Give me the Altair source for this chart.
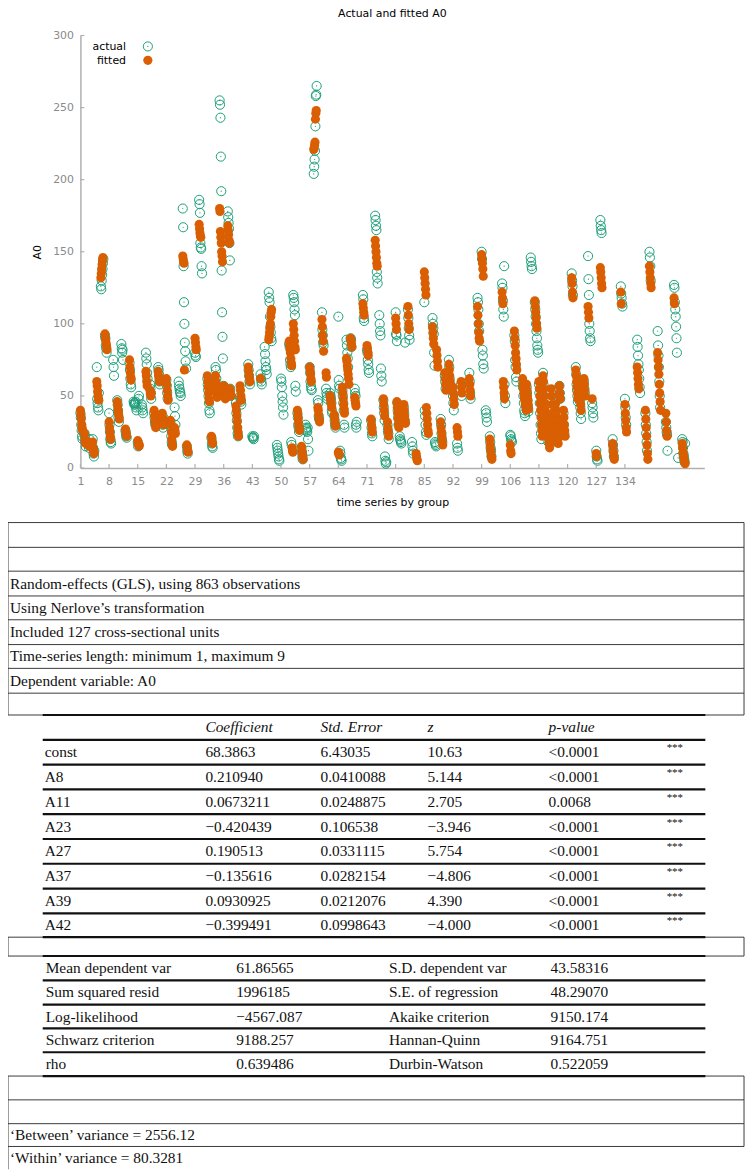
import altair as alt
import pandas as pd

# ---------------- chart data ----------------
UNIT_IDS = [1, 2, 3, 4, 5, 6, 7, 8, 9, 10, 11, 12, 13, 14, 15, 16, 17, 18, 19, 20,
            21, 22, 23, 24, 25, 26, 27, 29, 30, 32, 33, 34, 35, 36, 37, 39, 40, 42, 43, 45,
            46, 47, 49, 50, 52, 53, 54, 55, 56, 57, 58, 59, 60, 61, 62, 63, 64, 65, 66, 67,
            68, 70, 71, 72, 73, 74, 75, 76, 78, 79, 80, 81, 82, 83, 85, 87, 88, 89, 91, 92,
            93, 96, 98, 99, 100, 101, 104, 106, 107, 109, 111, 112, 114, 115, 117, 118, 121, 122, 123, 125,
            126, 127, 128, 131, 133, 134, 137, 139, 140, 142, 144, 146, 147, 148,
            90, 94, 110, 113, 116, 119, 124]

ACTUAL = [
    [38, 35, 30, 26, 22, 20], [24, 22, 18, 15], [16, 14, 20], [20, 14, 10, 8, 12],
    [70, 48, 45, 42, 40, 52], [126, 124, 130, 134, 138, 142, 145], [92, 90, 85, 83, 80],
    [38, 30, 25, 20, 18, 17], [75, 70, 64], [47, 44, 40, 35, 32], [86, 83, 80, 82, 75],
    [26, 24, 22, 21], [73, 68, 62, 58, 56], [46, 45, 44, 44, 45, 46, 42, 40], [18, 15, 48, 50],
    [44, 42, 40, 38], [80, 76, 72, 66, 62], [58, 55, 52, 48], [38, 35, 32, 30],
    [70, 68, 65, 60, 58], [34, 30, 28, 35], [61, 57, 52, 48], [32, 28, 22, 18, 16],
    [42, 36, 30], [60, 57, 55, 53, 52, 50], [180, 167, 140, 115, 100, 87, 81, 74, 69],
    [15, 12, 10], [80, 78, 77], [186, 183, 177, 156, 153, 152, 140, 135],
    [62, 58, 54, 50, 45, 40, 38], [21, 17, 15, 14, 60], [70, 68, 62],
    [255, 252, 243, 216, 192, 137, 108, 91, 76], [57, 52, 50],
    [178, 174, 170, 166, 156, 144, 55, 50], [45, 38, 33, 28, 24, 22], [50, 48, 46, 44],
    [72, 68, 64, 60, 58], [22, 21, 21, 20, 22], [65, 62, 60, 58], [84, 79, 74, 70, 68, 65],
    [122, 118, 115, 105, 98, 94, 90, 88], [16, 14, 12, 10, 8, 6, 5], [62, 60, 56, 50, 46, 42, 37],
    [86, 84, 75, 72, 70, 18, 16], [120, 118, 115, 110, 106, 57, 53], [38, 35, 30, 28, 25],
    [14, 11, 8, 6], [30, 28, 27, 26, 25, 28, 20, 12], [70, 66, 60, 57, 55, 54],
    [204, 209, 214, 220, 237, 258, 259, 265], [47, 45, 36, 34], [108, 96, 92, 87, 85],
    [55, 52, 50, 48], [52, 50, 48, 45, 40, 38], [36, 33, 30, 28], [105, 61, 57, 55, 12, 10, 7, 6, 5],
    [54, 50, 45, 40, 30, 28], [89, 85, 80, 76, 70], [90, 89, 84], [55, 52, 50, 30, 28, 32],
    [120, 117, 104, 102], [82, 80, 75, 72, 68, 66], [33, 28, 24, 22],
    [175, 172, 168, 165, 136, 132, 128], [106, 100, 95, 92, 69, 64, 60], [47, 42, 38, 33, 8, 5, 3, 4],
    [30, 26, 24, 20], [108, 93, 92, 88, 45, 40, 35, 30], [22, 20, 19, 18, 17], [42, 38, 33, 87],
    [110, 104, 97, 92, 89], [18, 15, 12, 10], [], [115, 40, 36, 30, 25, 23],
    [104, 100, 97, 93, 80, 71, 18, 17, 16, 15], [], [34, 30, 24, 20, 18], [75, 70, 62, 58],
    [50, 45, 40], [17, 14, 12], [66, 60, 52, 48], [118, 115, 110, 100, 95], [150, 145, 82, 78, 72, 69],
    [40, 38, 35, 32], [22, 18, 14, 12, 8], [128, 125, 116, 110, 105, 140, 58, 50, 45],
    [23, 22, 20, 19, 18], [92, 88, 75, 70, 63, 60], [60, 56, 50, 45, 40, 38, 36], [146, 143, 140, 138],
    [115, 110, 105, 100, 95, 90, 85, 82, 80], [66, 58, 50, 43, 38], [32, 26, 22, 18],
    [46, 40, 34, 28, 22], [57, 52, 48], [135, 130, 126, 120], [70, 65, 58, 54, 50, 46],
    [46, 42, 38, 34], [147, 131, 120, 100, 95, 90, 88], [45, 42, 38, 35], [12, 8, 6, 5],
    [172, 168, 165, 163], [20, 16, 12, 8], [126, 121, 118, 114, 112], [48, 42, 35, 30],
    [89, 84, 78, 72, 68, 62, 56, 52], [38, 30, 24, 18, 12], [150, 146, 140, 130],
    [95, 85, 78, 70, 60, 50, 42], [32, 28, 25, 23, 12], [127, 125, 115, 110, 105, 98, 90, 80],
    [7], [20, 18, 14, 10, 8, 6, 4, 17],
    [64, 60, 55], [58, 50], [56, 52, 47, 42, 39], [58, 52, 45, 38, 30, 24, 20],
    [52, 45, 40, 30, 25, 20], [38, 30, 24], [60, 55, 52],
]

FITTED = [
    [40, 37, 34, 30, 28, 26], [24, 20, 18, 17], [18, 16, 15], [18, 14, 12, 10, 11],
    [60, 57, 53, 50, 48, 47], [132, 135, 138, 141, 144, 146], [93, 90, 88, 86, 84, 82],
    [32, 28, 25, 22, 20], [], [46, 43, 40, 38, 36, 34], [],
    [27, 25, 23, 22], [75, 70, 66, 63, 61], [], [19, 17, 16, 15, 16],
    [], [67, 64, 60, 57], [54, 51, 50, 52], [40, 36, 33, 30, 28],
    [67, 64, 62, 60], [38, 35, 32, 30], [62, 58, 54, 50, 47], [33, 30, 25, 20, 17, 15],
    [28, 26, 24], [], [147, 145, 143, 142, 68],
    [16, 14, 12, 11], [90, 87, 84, 82], [169, 166, 163, 161, 160],
    [64, 60, 56, 52, 48, 46], [22, 20, 18, 17, 58, 55], [64, 60, 56, 52, 49],
    [180, 178, 164, 160, 156, 150, 147, 143], [57, 54, 52, 50, 48],
    [168, 165, 162, 158, 156, 55, 53, 51, 50], [43, 40, 36, 32, 28, 25, 22], [57, 54, 50, 47],
    [70, 67, 64, 62, 60], [], [62], [],
    [89, 91, 94, 97, 100, 105, 108, 110], [], [],
    [88, 85, 82, 80, 76, 73, 71, 14, 12, 11], [100, 96, 92, 88, 84, 82], [40, 37, 34, 31, 28, 26],
    [15, 12, 10, 8, 6], [], [70, 68, 65, 62, 60],
    [221, 222, 224, 226, 242, 246, 248], [42, 40, 37, 34, 32], [103, 98, 92, 88, 81],
    [66, 63], [50, 48, 46, 44, 42], [37, 34, 31, 29], [11, 10, 9],
    [56, 52, 48, 44, 41, 38], [76, 74, 71, 68, 65, 62, 58], [90, 88, 86, 84], [49, 47, 45, 43],
    [114, 111, 108, 106], [85, 83, 80, 78], [34, 30, 27, 25],
    [158, 154, 150, 146, 142, 140], [], [48, 44, 40, 36],
    [32, 28, 25, 22], [104, 100, 96, 46, 42, 38, 34, 30, 28], [], [44, 40, 36, 33, 31],
    [112, 106, 100, 96], [], [10, 8, 6, 5], [136, 132, 128, 124, 120, 42, 38, 34, 30, 26, 24],
    [98, 94, 90, 86], [82, 78, 74, 70], [32, 28, 25, 22, 19, 16], [72, 68, 64, 60],
    [56, 52, 48, 44], [28, 25, 22], [62, 58, 54, 50], [112, 106, 100, 94, 90, 88], [148, 145, 142, 138, 133],
    [], [20, 16, 13, 10, 8, 6], [122, 118, 114, 60, 56, 52, 48],
    [16, 12, 10], [95, 90, 85, 80, 76, 72, 68], [62, 58, 55, 52, 50, 48, 46, 44, 42, 40], [],
    [116, 112, 108, 104, 100, 97], [64, 60, 55, 50, 45, 40], [36, 32, 28, 24, 20, 17, 14],
    [44, 40, 36, 32, 28, 24, 20, 17], [57, 52, 48], [132, 128, 122, 118], [68, 64, 60, 56, 52, 48],
    [52, 48, 44, 40], [112, 108, 104], [48], [10, 8],
    [139, 136, 132, 128, 125], [17, 14, 11, 8, 6], [122, 114], [44, 38, 33, 28, 25],
    [70, 66, 62, 58, 55], [40, 34, 28, 22, 16, 10, 6], [140, 136, 132, 128, 125],
    [80, 75, 70, 65, 58, 52, 46, 40], [38, 32, 26, 22], [118, 114],
    [], [17, 14, 11, 9, 7, 5, 4, 3],
    [66, 62, 58, 54], [60, 56, 52], [58, 54, 50, 47, 44, 41], [60, 55, 50, 45, 40, 35, 30, 26, 22],
    [55, 50, 44, 38, 33, 28, 24, 20, 18], [40, 35, 30, 26, 22], [62, 58, 54, 50],
]

X_TICKS = [1, 8, 15, 22, 29, 36, 43, 50, 57, 64, 71, 78, 85, 92, 99, 106, 113, 120, 127, 134]
Y_TICKS = [0, 50, 100, 150, 200, 250, 300]
LEGEND_LABELS = ["actual", "fitted"]
CHART_TITLE = "Actual and fitted A0"
X_TITLE = "time series by group"
Y_TITLE = "A0"

# ---------------- table text ----------------
HEADER_LINES = [
    "Random-effects (GLS), using 863 observations",
    "Using Nerlove\u2019s transformation",
    "Included 127 cross-sectional units",
    "Time-series length: minimum 1, maximum 9",
    "Dependent variable: A0",
]
COEF_HEADERS = ["Coefficient", "Std. Error", "z", "p-value"]
COEF_NAMES = ["const", "A8", "A11", "A23", "A27", "A37", "A39", "A42"]
COEF_VALUES = ["68.3863", "0.210940", "0.0673211", "\u22120.420439", "0.190513",
               "\u22120.135616", "0.0930925", "\u22120.399491"]
STD_ERRORS = ["6.43035", "0.0410088", "0.0248875", "0.106538", "0.0331115",
              "0.0282154", "0.0212076", "0.0998643"]
Z_VALUES = ["10.63", "5.144", "2.705", "\u22123.946", "5.754", "\u22124.806", "4.390", "\u22124.000"]
P_VALUES = ["<0.0001", "<0.0001", "0.0068", "<0.0001", "<0.0001", "<0.0001", "<0.0001", "<0.0001"]
STARS = ["***", "***", "***", "***", "***", "***", "***", "***"]
STAT_LABELS_L = ["Mean dependent var", "Sum squared resid", "Log-likelihood", "Schwarz criterion", "rho"]
STAT_VALUES_L = ["61.86565", "1996185", "\u22124567.087", "9188.257", "0.639486"]
STAT_LABELS_R = ["S.D. dependent var", "S.E. of regression", "Akaike criterion", "Hannan-Quinn", "Durbin-Watson"]
STAT_VALUES_R = ["43.58316", "48.29070", "9150.174", "9164.751", "0.522059"]
FOOTER_LINES = ["\u2018Between\u2019 variance = 2556.12", "\u2018Within\u2019 variance = 80.3281"]

# ---------------- layout (page pixels) ----------------
PLOT_LEFT, PLOT_TOP = 81, 31
PLOT_W, PLOT_H = 629, 436
PAGE_W, PAGE_H = 754, 1174
SVG_W, SVG_H = 744, 1166
BOX_L, BOX_R = 8, 750
TAB_L, TAB_R = 43, 711
BOX1_LINES = [522, 547, 571, 596, 620, 645, 669, 694, 716]
COEF_LINES = [716, 741, 766, 791, 816, 841, 866, 891, 916, 940]
BOX2 = [940, 959]
STAT_LINES = [959, 983.5, 1008, 1032, 1056, 1080]
BOX3_LINES = [1080, 1104, 1128, 1151]
BOX3_BOTTOM = 1174
FOOTER_ROW = 24
COEF_COL_X = [45, 207, 323, 431, 553, 672]
STAT_COL_X = [46, 238, 392, 555]
TEXT_X = 10
STEP = 0.1

GREEN = "#1b9e77"
ORANGE = "#d95f02"
AXIS_GREY = "#b0b0b0"
LABEL_GREY = "#8a8a8a"
SANS = "DejaVu Sans"
SERIF = "Liberation Serif"

# ---------------- build scatter tables ----------------
rows_a, rows_f = [], []
for u, acts, fits in zip(UNIT_IDS, ACTUAL, FITTED):
    for k, v in enumerate(acts):
        rows_a.append({"x": u + k * STEP, "value": v})
    for k, v in enumerate(fits):
        rows_f.append({"x": u + k * STEP, "value": v})
df_a = pd.DataFrame(rows_a)
df_f = pd.DataFrame(rows_f)

xscale = alt.Scale(domain=[1, 153.4], nice=False, zero=False)
yscale = alt.Scale(domain=[0, 300], nice=False, zero=False)

xaxis = alt.Axis(values=X_TICKS, tickSize=0, labelPadding=8, labelColor=LABEL_GREY,
                 labelFontSize=11, labelFont=SANS, labelFlush=False, labelOverlap=False,
                 domainColor=AXIS_GREY, domainWidth=1.5, grid=False, title=X_TITLE,
                 titleFont=SANS, titleFontSize=11, titleFontWeight="normal", titleColor="#000000",
                 titlePadding=10)
yaxis = alt.Axis(values=Y_TICKS, tickSize=0, labelPadding=7, labelColor=LABEL_GREY,
                 labelFontSize=11, labelFont=SANS, labelFlush=False, labelOverlap=False,
                 domainColor=AXIS_GREY, domainWidth=1.5, grid=False, title=Y_TITLE,
                 titleFont=SANS, titleFontSize=11, titleFontWeight="normal", titleColor="#000000",
                 titlePadding=10)

X = alt.X("x:Q", scale=xscale, axis=xaxis)
Y = alt.Y("value:Q", scale=yscale, axis=yaxis)

actual = alt.Chart(df_a).mark_point(shape="circle", filled=False, size=85, strokeWidth=1,
                                    color=GREEN, opacity=1).encode(x=X, y=Y)
dots = alt.Chart(df_a).mark_circle(size=1.5, color=GREEN, opacity=1).encode(x=X, y=Y)
fitted = alt.Chart(df_f).mark_circle(size=85, color=ORANGE, opacity=1).encode(x=X, y=Y)

xt = alt.Chart(pd.DataFrame({"x": X_TICKS})).mark_rule(color=AXIS_GREY, strokeWidth=1.2).encode(
    x=X, y=alt.value(PLOT_H), y2=alt.value(PLOT_H - 4))
yt = alt.Chart(pd.DataFrame({"value": Y_TICKS})).mark_rule(color=AXIS_GREY, strokeWidth=1.2).encode(
    y=Y, x=alt.value(0), x2=alt.value(4))

leg_a_t = alt.Chart(pd.DataFrame({"t": [LEGEND_LABELS[0]]})).mark_text(
    align="right", baseline="middle", font=SANS, fontSize=11, color="#000000").encode(
    x=alt.value(46), y=alt.value(12), text="t:N")
leg_f_t = alt.Chart(pd.DataFrame({"t": [LEGEND_LABELS[1]]})).mark_text(
    align="right", baseline="middle", font=SANS, fontSize=11, color="#000000").encode(
    x=alt.value(46), y=alt.value(26), text="t:N")
leg_a_p = alt.Chart(pd.DataFrame({"t": [LEGEND_LABELS[0]]})).mark_point(
    shape="circle", filled=False, size=85, strokeWidth=1, color=GREEN, opacity=1).encode(
    x=alt.value(68), y=alt.value(11))
leg_a_d = alt.Chart(pd.DataFrame({"t": [LEGEND_LABELS[0]]})).mark_circle(
    size=1.5, color=GREEN, opacity=1).encode(x=alt.value(68), y=alt.value(11))
leg_f_p = alt.Chart(pd.DataFrame({"t": [LEGEND_LABELS[1]]})).mark_circle(
    size=85, color=ORANGE, opacity=1).encode(x=alt.value(68), y=alt.value(25))

scatter = alt.layer(actual, dots, fitted, xt, yt, leg_a_t, leg_f_t, leg_a_p, leg_a_d, leg_f_p)

# ---------------- build regression tables ----------------
def mid(a, b):
    return (a + b) / 2.0

thin_h, thin_v, thick_h, texts, italics, stars = [], [], [], [], [], []
for y in BOX1_LINES:
    thin_h.append({"x1": BOX_L, "x2": BOX_R, "y": y})
for y in BOX2:
    thin_h.append({"x1": BOX_L, "x2": BOX_R, "y": y})
for y in BOX3_LINES:
    thin_h.append({"x1": BOX_L, "x2": BOX_R, "y": y})
for xv in (BOX_L, BOX_R):
    thin_v.append({"x": xv, "y1": BOX1_LINES[0], "y2": BOX1_LINES[-1]})
    thin_v.append({"x": xv, "y1": BOX2[0], "y2": BOX2[1]})
thin_v.append({"x": BOX_L, "y1": BOX3_LINES[0], "y2": BOX3_BOTTOM})
thin_v.append({"x": BOX_R, "y1": BOX3_LINES[0], "y2": BOX3_LINES[-1]})
for y in COEF_LINES + STAT_LINES:
    thick_h.append({"x1": TAB_L, "x2": TAB_R, "y": y})

for i, line in enumerate(HEADER_LINES):
    texts.append({"x": TEXT_X, "y": mid(BOX1_LINES[i + 2], BOX1_LINES[i + 3]), "text": line})
for j, h in enumerate(COEF_HEADERS):
    italics.append({"x": COEF_COL_X[j + 1], "y": mid(COEF_LINES[0], COEF_LINES[1]), "text": h})
for i in range(len(COEF_NAMES)):
    yy = mid(COEF_LINES[i + 1], COEF_LINES[i + 2])
    for j, col in enumerate([COEF_NAMES, COEF_VALUES, STD_ERRORS, Z_VALUES, P_VALUES]):
        texts.append({"x": COEF_COL_X[j], "y": yy, "text": col[i]})
    stars.append({"x": COEF_COL_X[5], "y": yy, "text": STARS[i]})
for i in range(len(STAT_LABELS_L)):
    yy = mid(STAT_LINES[i], STAT_LINES[i + 1])
    for j, col in enumerate([STAT_LABELS_L, STAT_VALUES_L, STAT_LABELS_R, STAT_VALUES_R]):
        texts.append({"x": STAT_COL_X[j], "y": yy, "text": col[i]})
texts.append({"x": TEXT_X, "y": mid(BOX3_LINES[2], BOX3_LINES[3]), "text": FOOTER_LINES[0]})
texts.append({"x": TEXT_X, "y": BOX3_LINES[3] + FOOTER_ROW / 2, "text": FOOTER_LINES[1]})

tx = alt.Scale(domain=[0, PAGE_W], range=[-PLOT_LEFT, PAGE_W - PLOT_LEFT], nice=False, zero=False)
ty = alt.Scale(domain=[0, PAGE_H], range=[-PLOT_TOP, PAGE_H - PLOT_TOP], nice=False, zero=False)

l_thin_h = alt.Chart(pd.DataFrame(thin_h)).mark_rule(color="#3a3a3a", strokeWidth=1).encode(
    x=alt.X("x1:Q", scale=tx, axis=None), x2="x2:Q", y=alt.Y("y:Q", scale=ty, axis=None))
l_thin_v = alt.Chart(pd.DataFrame(thin_v)).mark_rule(color="#3a3a3a", strokeWidth=1).encode(
    x=alt.X("x:Q", scale=tx, axis=None), y=alt.Y("y1:Q", scale=ty, axis=None), y2="y2:Q")
l_thick = alt.Chart(pd.DataFrame(thick_h)).mark_rule(color="#111111", strokeWidth=2.2).encode(
    x=alt.X("x1:Q", scale=tx, axis=None), x2="x2:Q", y=alt.Y("y:Q", scale=ty, axis=None))
l_text = alt.Chart(pd.DataFrame(texts)).mark_text(
    align="left", baseline="middle", font=SERIF, fontSize=15.5, color="#111111").encode(
    x=alt.X("x:Q", scale=tx, axis=None), y=alt.Y("y:Q", scale=ty, axis=None), text="text:N")
l_ital = alt.Chart(pd.DataFrame(italics)).mark_text(
    align="left", baseline="middle", font=SERIF, fontSize=15.5, fontStyle="italic",
    color="#111111").encode(
    x=alt.X("x:Q", scale=tx, axis=None), y=alt.Y("y:Q", scale=ty, axis=None), text="text:N")
l_stars = alt.Chart(pd.DataFrame(stars)).mark_text(
    align="left", baseline="middle", font=SERIF, fontSize=11, dy=-4, color="#111111").encode(
    x=alt.X("x:Q", scale=tx, axis=None), y=alt.Y("y:Q", scale=ty, axis=None), text="text:N")

tables = alt.layer(l_thin_h, l_thin_v, l_thick, l_text, l_ital, l_stars)

chart = alt.layer(scatter, tables).resolve_scale(x="independent", y="independent").properties(
    width=PLOT_W, height=PLOT_H,
    title=alt.Title(CHART_TITLE, font=SANS, fontSize=11, fontWeight="normal", color="#000000",
                    anchor="middle", offset=11),
    autosize=alt.AutoSizeParams(type="none"),
    padding={"left": PLOT_LEFT - 8, "top": PLOT_TOP - 8,
             "right": SVG_W - (PLOT_LEFT - 8) - PLOT_W,
             "bottom": SVG_H - (PLOT_TOP - 8) - PLOT_H},
).configure_view(stroke=None)

chart.save("out.html", embed_options={"renderer": "svg", "actions": False})
